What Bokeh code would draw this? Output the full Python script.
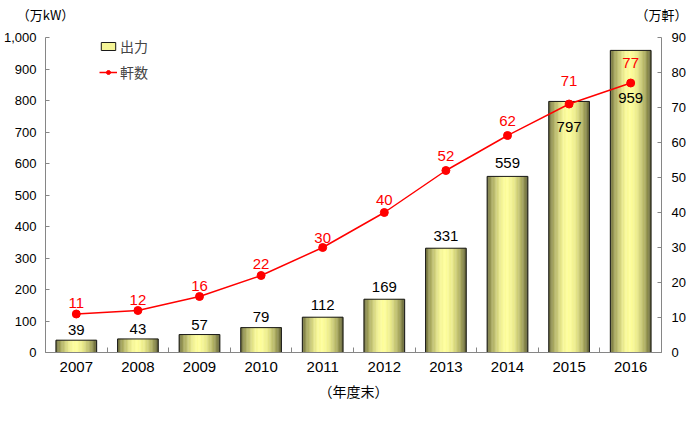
import numpy as np
from bokeh.plotting import figure
from bokeh.models import (Range1d, LinearAxis, FixedTicker, Legend, LegendItem,
                          ColumnDataSource, NumeralTickFormatter)
from bokeh.core.properties import value
from bokeh.embed import file_html
from bokeh.resources import INLINE

# ---- data ----
years = [2007, 2008, 2009, 2010, 2011, 2012, 2013, 2014, 2015, 2016]
output_10k_kw = [39, 43, 57, 79, 112, 169, 331, 559, 797, 959]
households_10k = [11, 12, 16, 22, 30, 40, 52, 62, 71, 77]
left_ticks = [0, 100, 200, 300, 400, 500, 600, 700, 800, 900, 1000]
right_ticks = [0, 10, 20, 30, 40, 50, 60, 70, 80, 90]
year_labels = [str(y) for y in years]
left_unit = "（万kW）"
right_unit = "（万軒）"

# ---- style constants ----
NUM_FONT = "Liberation Sans"
JP_FONT = "Noto Sans CJK JP"
RED = "#ff0000"
AXIS_COLOR = "#868686"
BAR_W = 0.66
N_STRIPS = 30
bar_label_offsets = [-10, -10, -10, -11, -12, -12, -12, -13, 26, 48]
line_label_offsets = [-11, -11, -11, -12, -10, -13, -15, -15, -23, -20]

stops = [(0.0, (105, 105, 58)), (0.12, (168, 168, 95)), (0.35, (245, 245, 150)),
         (0.5, (255, 255, 156)), (0.66, (236, 236, 140)), (0.86, (172, 172, 96)),
         (1.0, (95, 95, 52))]


def grad(t):
    for (t0, c0), (t1, c1) in zip(stops[:-1], stops[1:]):
        if t0 <= t <= t1:
            f = (t - t0) / (t1 - t0)
            c = [int(round(a + (b - a) * f)) for a, b in zip(c0, c1)]
            return "#%02x%02x%02x" % tuple(c)
    return "#%02x%02x%02x" % stops[-1][1]


p = figure(width=689, height=435, output_backend="svg", toolbar_location=None,
           x_range=Range1d(years[0] - 0.5, years[-1] + 0.5), y_range=Range1d(0, 1000),
           min_border_left=43, min_border_right=28, min_border_top=37, min_border_bottom=83)
p.outline_line_color = None
p.xgrid.grid_line_color = None
p.ygrid.grid_line_color = None
p.background_fill_color = "white"
p.border_fill_color = "white"
p.extra_y_ranges = {"right": Range1d(0, 90)}
p.extra_x_ranges = {"units": Range1d(0, 1)}

# ---- gradient bars (vertical strips) ----
start = int(round(0.35 * N_STRIPS))
order = list(range(start, N_STRIPS)) + list(range(0, start))
xs, tops, cols = [], [], []
for i in order:
    t = (i + 0.5) / N_STRIPS
    c = grad(t)
    for yr, v in zip(years, output_10k_kw):
        xs.append(yr + (t - 0.5) * BAR_W)
        tops.append(v)
        cols.append(c)
strip_src = ColumnDataSource(dict(x=xs, top=tops, color=cols))
strips = p.vbar(x="x", top="top", width=BAR_W / N_STRIPS * 1.05, source=strip_src,
                fill_color="color", line_color="color", line_width=0.4)
outline = p.vbar(x=years, top=output_10k_kw, width=BAR_W, fill_alpha=0,
                 line_color="#1a1a1a", line_width=1)

# bar value labels
p.text(x=years, y=output_10k_kw, text=[str(v) for v in output_10k_kw],
       y_offset=bar_label_offsets, text_align="center", text_baseline="middle",
       text_font=value(NUM_FONT), text_font_size="15px", text_color="#000000")

# ---- line on right axis ----
ln = p.line(x=years, y=households_10k, y_range_name="right", line_color=RED, line_width=1.5)
dots = p.scatter(x=years, y=households_10k, y_range_name="right", size=8,
                 fill_color=RED, line_color=RED)
p.text(x=years, y=households_10k, y_range_name="right", text=[str(v) for v in households_10k],
       y_offset=line_label_offsets, text_align="center", text_baseline="middle",
       text_font=value(NUM_FONT), text_font_size="15px", text_color=RED)

# ---- axes ----
xa = p.xaxis[0]
xa.ticker = FixedTicker(ticks=years, minor_ticks=[y - 0.5 for y in years] + [years[-1] + 0.5])
xa.major_label_overrides = {y: s for y, s in zip(years, year_labels)}
xa.major_tick_in = 0
xa.major_tick_out = 0
xa.minor_tick_in = 5
xa.minor_tick_out = 0
xa.minor_tick_line_color = AXIS_COLOR
xa.axis_line_color = AXIS_COLOR
xa.major_label_text_font = NUM_FONT
xa.major_label_text_font_size = "15px"
xa.major_label_text_color = "#000000"
xa.major_label_standoff = 9
xa.axis_label = "（年度末）"
xa.axis_label_text_font = JP_FONT
xa.axis_label_text_font_style = "normal"
xa.axis_label_text_font_size = "14px"
xa.axis_label_text_color = "#000000"
xa.axis_label_standoff = 6

ya = p.yaxis[0]
ya.ticker = FixedTicker(ticks=left_ticks)
ya.formatter = NumeralTickFormatter(format="0,0")
ya.major_tick_in = 4
ya.major_tick_out = 0
ya.minor_tick_line_color = None
ya.axis_line_color = AXIS_COLOR
ya.major_tick_line_color = AXIS_COLOR
ya.major_label_text_font = NUM_FONT
ya.major_label_text_font_size = "13px"
ya.major_label_text_color = "#000000"
ya.major_label_standoff = 9

ra = LinearAxis(y_range_name="right", ticker=FixedTicker(ticks=right_ticks))
ra.major_tick_in = 4
ra.major_tick_out = 0
ra.minor_tick_line_color = None
ra.axis_line_color = AXIS_COLOR
ra.major_tick_line_color = AXIS_COLOR
ra.major_label_text_font = NUM_FONT
ra.major_label_text_font_size = "13px"
ra.major_label_text_color = "#000000"
ra.major_label_standoff = 10
p.add_layout(ra, "right")

# ---- unit labels as tick labels of an invisible top axis ----
ua = LinearAxis(x_range_name="units", ticker=FixedTicker(ticks=[0, 1]))
ua.major_label_overrides = {0: left_unit, 1: right_unit}
ua.axis_line_color = None
ua.major_tick_line_color = None
ua.minor_tick_line_color = None
ua.major_tick_in = 0
ua.major_tick_out = 0
ua.minor_tick_in = 0
ua.minor_tick_out = 0
ua.major_label_standoff = 14
ua.major_label_text_font = JP_FONT
ua.major_label_text_font_size = "13px"
ua.major_label_text_color = "#000000"
p.add_layout(ua, "above")

# ---- legend ----
legend = Legend(items=[LegendItem(label="出力", renderers=[strips, outline], index=0),
                       LegendItem(label="軒数", renderers=[ln, dots])],
                location=(54, 270), orientation="vertical",
                label_text_font=JP_FONT, label_text_font_size="14px",
                glyph_width=18, glyph_height=10, label_standoff=3, spacing=6,
                padding=0, margin=0, border_line_color=None,
                background_fill_alpha=0)
p.add_layout(legend)

open("out.html", "w").write(file_html(p, INLINE))
